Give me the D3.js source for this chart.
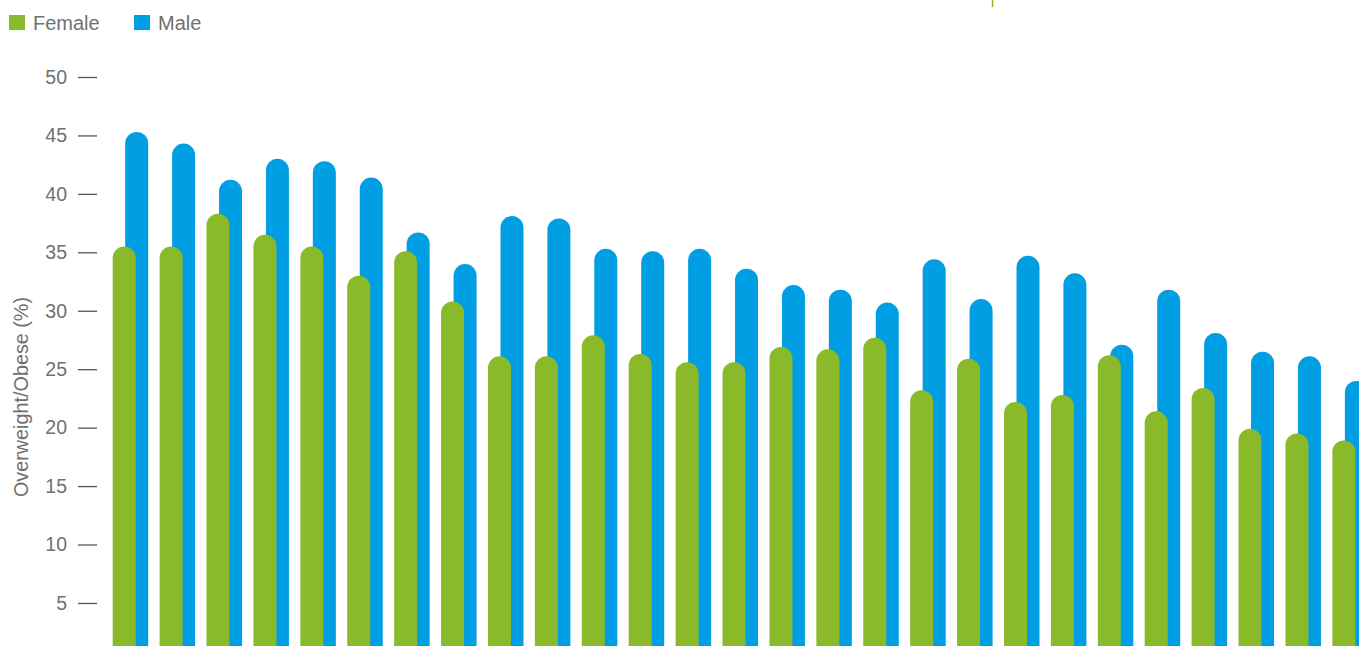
<!DOCTYPE html>
<html>
<head>
<meta charset="utf-8">
<script src="https://cdn.jsdelivr.net/npm/d3@7"></script>
<style>
  html, body { margin: 0; padding: 0; background: #fff; overflow: hidden; }
  svg { display: block; font-family: "Liberation Sans", Arial, sans-serif; }
</style>
</head>
<body>
<svg id="chart" width="1359" height="646"></svg>
<script>
// ---- Data ----
const categories = ["1","2","3","4","5","6","7","8","9","10","11","12","13","14","15","16","17","18","19","20","21","22","23","24","25","26","27"];
const female = [35.5, 35.5, 38.3, 36.5, 35.5, 33.0, 35.1, 30.8, 26.1, 26.1, 27.9, 26.3, 25.6, 25.6, 26.9, 26.7, 27.7, 23.2, 25.9, 22.2, 22.8, 26.2, 21.4, 23.4, 19.9, 19.5, 18.9];
const male   = [45.3, 44.3, 41.2, 43.0, 42.8, 41.4, 36.7, 34.0, 38.1, 37.9, 35.3, 35.1, 35.3, 33.6, 32.2, 31.8, 30.7, 34.4, 31.0, 34.7, 33.2, 27.1, 31.8, 28.1, 26.5, 26.1, 24.0];
const seriesNames = ["Female", "Male"];
const yTicks = [5, 10, 15, 20, 25, 30, 35, 40, 45, 50];
const yLabel = "Overweight/Obese (%)";

// ---- Styles ----
const colors = { Female: "#8ab92a", Male: "#009ee2" };
const textColor = "#707070";

const svg = d3.select("#chart");

const y = d3.scaleLinear().domain([0, 50]).range([661.4, 77]);
const x = d3.scaleBand().domain(categories).range([100, 100 + 27 * 46.91]).padding(0);

const barW = 23;
const femaleOff = 12.7;
const maleOff = 25.2;

function roundTopBar(x0, w, yTop, yBot) {
  const r = w / 2;
  return `M${x0},${yBot}L${x0},${yTop + r}A${r},${r} 0 0 1 ${x0 + w},${yTop + r}L${x0 + w},${yBot}Z`;
}

const yBottom = y(0) + 5;

// Male bars (behind)
svg.append("g").selectAll("path")
  .data(categories.map((c, i) => ({ c, v: male[i] })))
  .join("path")
  .attr("fill", colors.Male)
  .attr("d", d => roundTopBar(x(d.c) + maleOff, barW, y(d.v), yBottom));

// Female bars (front)
svg.append("g").selectAll("path")
  .data(categories.map((c, i) => ({ c, v: female[i] })))
  .join("path")
  .attr("fill", colors.Female)
  .attr("d", d => roundTopBar(x(d.c) + femaleOff, barW, y(d.v), yBottom));

// Y axis
const axis = d3.axisLeft(y).tickValues(yTicks).tickSize(19).tickPadding(11).tickFormat(d3.format("d"));
const gAxis = svg.append("g").attr("transform", "translate(97,0)").call(axis);
gAxis.select(".domain").remove();
gAxis.selectAll(".tick line").attr("stroke", "#555").attr("stroke-width", 1.3);
gAxis.selectAll(".tick text")
  .attr("fill", textColor)
  .style("font-size", "19.5px")
  .style("font-family", "'Liberation Sans', Arial, sans-serif");

// Y label
svg.append("text")
  .attr("transform", "translate(28,397) rotate(-90)")
  .attr("text-anchor", "middle")
  .attr("fill", textColor)
  .style("font-size", "19.8px")
  .text(yLabel);

// Legend
const legend = svg.append("g");
const legendX = { Female: 9, Male: 134 };
seriesNames.forEach(name => {
  legend.append("rect")
    .attr("x", legendX[name]).attr("y", 15)
    .attr("width", 16).attr("height", 15)
    .attr("fill", colors[name]);
  legend.append("text")
    .attr("x", legendX[name] + 24).attr("y", 30)
    .attr("fill", textColor)
    .style("font-size", "20px")
    .text(name);
});

// small green mark at top
svg.append("line")
  .attr("x1", 992.5).attr("x2", 992.5).attr("y1", 0).attr("y2", 7)
  .attr("stroke", colors.Female).attr("stroke-width", 1.5);
</script>
</body>
</html>
